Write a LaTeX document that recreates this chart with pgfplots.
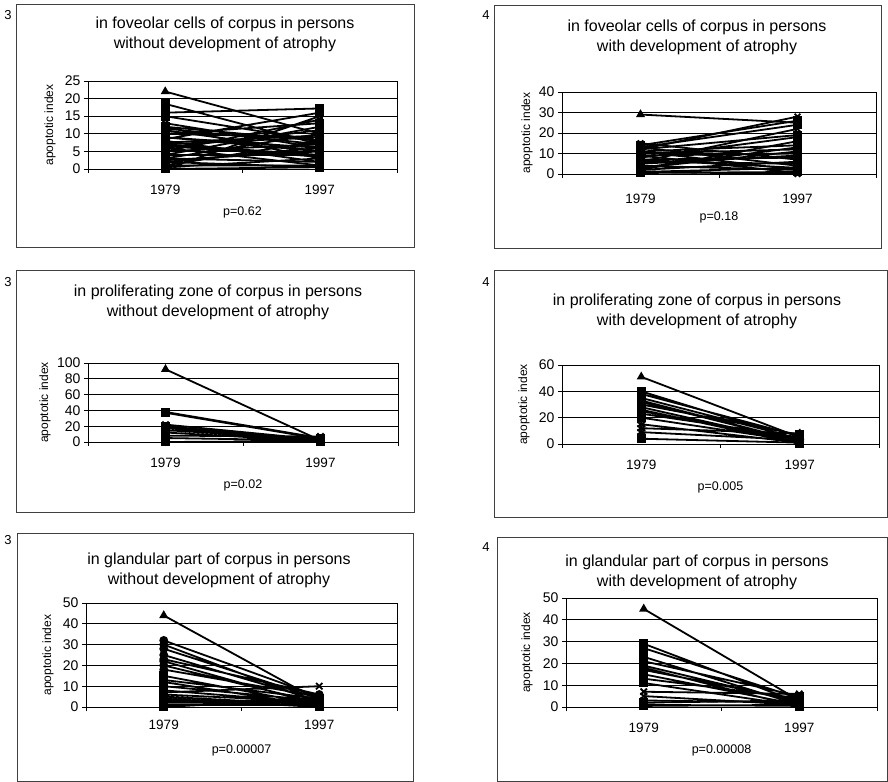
\documentclass[border=0pt]{standalone}
\usepackage{pgfplots}
\pgfplotsset{compat=1.18}
\usepackage{fontspec}
\setmainfont{Liberation Sans}

\pgfplotsset{
  panel/.style={
    scale only axis, anchor=south west, clip=false,
    xmin=0.5, xmax=2.5, ymin=0,
    xtick={0.5,1.5,2.5}, xticklabels={},
    extra x ticks={1,2}, extra x tick labels={1979,1997},
    extra x tick style={major tick length=0pt},
    xtick pos=bottom, ytick pos=left,
    tick align=outside, major tick length=4pt,
    tick style={black, line width=0.7pt},
    ymajorgrids=true, grid style={black, line width=0.8pt},
    axis line style={black, line width=0.8pt},
    /pgf/number format/assume math mode=true,
    yticklabel style={font=\fontsize{14}{15}\selectfont},
    xticklabel style={font=\fontsize{13.5}{14}\selectfont, anchor=center, yshift=-21pt},
    ylabel={apoptotic index},
    ylabel style={font=\fontsize{12}{13}\selectfont, at={(axis description cs:0,0.5)}, anchor=center},
    xlabel style={font=\fontsize{12.5}{13}\selectfont, at={(axis description cs:0.5,0)}, anchor=center, yshift=-43pt},
    unbounded coords=jump,
  },
  pair/.style={black, line width=1.8pt, mark size=3.5pt, mark options={solid, fill=black}},
}

\begin{document}
\begin{tikzpicture}
\path (0pt,0pt) rectangle (888pt,779pt);

% frames and panel numbers
\draw[black!75, line width=0.8pt] (16pt,532pt) rectangle (414pt,775pt);
\draw[black!75, line width=0.8pt] (494pt,531pt) rectangle (881pt,774pt);
\draw[black!75, line width=0.8pt] (16pt,267pt) rectangle (414pt,509pt);
\draw[black!75, line width=0.8pt] (494pt,262pt) rectangle (887pt,509pt);
\draw[black!75, line width=0.8pt] (17pt,-2pt) rectangle (413pt,246pt);
\draw[black!75, line width=0.8pt] (497pt,-2pt) rectangle (887pt,242pt);
\foreach \px/\py/\lab in {8/764/3, 8/497/3, 8/239/3, 486/764/4, 486/497/4, 486/232/4}
  \node[font=\fontsize{13}{14}\selectfont] at (\px pt,\py pt) {\lab};

% 1: foveolar, without atrophy
\begin{axis}[panel, at={(88pt,610pt)}, width=309pt, height=88pt,
  ymax=25, ytick={0,5,...,25}, ylabel style={yshift=38pt}, xlabel={p=0.62}]
\addplot[pair, mark=triangle*] coordinates {(1,22) (2,10)};
\addplot[pair, mark=square*] coordinates {
 (1,18.5) (2,7) (1.5,nan) (1,16) (2,17.2) (1.5,nan) (1,15) (2,8) (1.5,nan)
 (1,12) (2,3) (1.5,nan) (1,11.5) (2,7) (1.5,nan) (1,10) (2,13) (1.5,nan)
 (1,9) (2,5) (1.5,nan) (1,8.5) (2,16) (1.5,nan) (1,8) (2,2) (1.5,nan)
 (1,7) (2,9) (1.5,nan) (1,6) (2,11) (1.5,nan) (1,5) (2,7) (1.5,nan)
 (1,4) (2,4) (1.5,nan) (1,3) (2,10) (1.5,nan) (1,2) (2,6) (1.5,nan)
 (1,1) (2,8) (1.5,nan) (1,0.5) (2,3) (1.5,nan) (1,2) (2,0.5) (1.5,nan)
 (1,6) (2,1) (1.5,nan) (1,10) (2,9) (1.5,nan) (1,9) (2,6) (1.5,nan)
 (1,0) (2,0.5)};
\addplot[pair, mark=x, mark size=4pt] coordinates {
 (1,7) (2,4) (1.5,nan) (1,4) (2,12) (1.5,nan) (1,3) (2,2) (1.5,nan)
 (1,1) (2,1) (1.5,nan) (1,11) (2,5) (1.5,nan) (1,5) (2,14) (1.5,nan)
 (1,12) (2,8) (1.5,nan) (1,13) (2,6) (1.5,nan) (1,7.5) (2,9.5) (1.5,nan)
 (1,2.5) (2,5) (1.5,nan) (1,6.5) (2,3.5) (1.5,nan) (1,0) (2,15)};
\end{axis}
\node[font=\fontsize{16}{20}\selectfont, align=center] at (225pt,744.5pt)
  {in foveolar cells of corpus in persons\\without development of atrophy};

% 2: foveolar, with atrophy
\begin{axis}[panel, at={(562pt,605pt)}, width=314pt, height=82pt,
  ymax=40, ytick={0,10,...,40}, ylabel style={yshift=35pt}, xlabel={p=0.18},
  xticklabel style={yshift=-4pt}]
\addplot[pair, mark=triangle*] coordinates {(1,29) (2,25)};
\addplot[pair, mark=square*] coordinates {
 (1,14) (2,26) (1.5,nan) (1,13) (2,24) (1.5,nan) (1,12) (2,19) (1.5,nan)
 (1,11) (2,14) (1.5,nan) (1,10) (2,12) (1.5,nan) (1,9) (2,10) (1.5,nan)
 (1,8) (2,18) (1.5,nan) (1,7) (2,8) (1.5,nan) (1,6) (2,5) (1.5,nan)
 (1,5) (2,9) (1.5,nan) (1,4) (2,2) (1.5,nan) (1,3) (2,13) (1.5,nan)
 (1,2) (2,6) (1.5,nan) (1,1) (2,3) (1.5,nan) (1,0.5) (2,1)};
\addplot[pair, mark=x, mark size=4pt] coordinates {
 (1,13) (2,4) (1.5,nan) (1,11) (2,2) (1.5,nan) (1,15) (2,7) (1.5,nan)
 (1,9) (2,0.5) (1.5,nan) (1,6) (2,22) (1.5,nan) (1,3) (2,11) (1.5,nan)
 (1,2) (2,16) (1.5,nan) (1,1) (2,0) (1.5,nan) (1,7) (2,3) (1.5,nan)
 (1,12) (2,28)};
\end{axis}
\node[font=\fontsize{16}{20}\selectfont, align=center] at (697pt,742pt)
  {in foveolar cells of corpus in persons\\with development of atrophy};

% 3: proliferating zone, without atrophy
\begin{axis}[panel, at={(88pt,337pt)}, width=310pt, height=79pt,
  ymax=100, ytick={0,20,...,100}, ylabel style={yshift=43pt}, xlabel={p=0.02}]
\addplot[pair, mark=triangle*] coordinates {(1,92) (2,2)};
\addplot[pair, mark=x, mark size=4.5pt] coordinates {
 (1,38) (2,5) (1.5,nan) (1,22) (2,3) (1.5,nan) (1,8) (2,7)};
\addplot[pair, mark=square*] coordinates {
 (1,37) (2,4) (1.5,nan) (1,20) (2,2) (1.5,nan) (1,18) (2,1) (1.5,nan)
 (1,15) (2,3) (1.5,nan) (1,12) (2,1) (1.5,nan) (1,0) (2,1) (1.5,nan)
 (1,5) (2,2) (1.5,nan) (1,19) (2,0)};
\end{axis}
\node[font=\fontsize{16}{20}\selectfont, align=center] at (218pt,477pt)
  {in proliferating zone of corpus in persons\\without development of atrophy};

% 4: proliferating zone, with atrophy
\begin{axis}[panel, at={(562pt,335pt)}, width=317pt, height=79pt,
  ymax=60, ytick={0,20,...,60}, ylabel style={yshift=38pt}, xlabel={p=0.005}]
\addplot[pair, mark=triangle*] coordinates {(1,51) (2,5)};
\addplot[pair, mark=square*] coordinates {
 (1,40) (2,3) (1.5,nan) (1,38) (2,6) (1.5,nan) (1,35) (2,4) (1.5,nan)
 (1,32) (2,2) (1.5,nan) (1,30) (2,7) (1.5,nan) (1,28) (2,1) (1.5,nan)
 (1,25) (2,3) (1.5,nan) (1,23) (2,5) (1.5,nan) (1,20) (2,2) (1.5,nan)
 (1,26) (2,0) (1.5,nan) (1,33) (2,2) (1.5,nan) (1,4) (2,1)};
\addplot[pair, mark=asterisk, mark size=4.5pt] coordinates {
 (1,15) (2,1) (1.5,nan) (1,12) (2,8) (1.5,nan) (1,9) (2,3)};
\end{axis}
\node[font=\fontsize{16}{20}\selectfont, align=center] at (697pt,468pt)
  {in proliferating zone of corpus in persons\\with development of atrophy};

% 5: glandular part, without atrophy
\begin{axis}[panel, at={(86pt,72pt)}, width=311pt, height=104pt,
  ymax=50, ytick={0,10,...,50}, ylabel style={yshift=38pt}, xlabel={p=0.00007},
  xticklabel style={yshift=3pt}]
\addplot[pair, mark=triangle*] coordinates {(1,44) (2,3)};
\addplot[pair, mark=*] coordinates {
 (1,32) (2,5) (1.5,nan) (1,30) (2,2) (1.5,nan) (1,28) (2,4) (1.5,nan)
 (1,25) (2,3) (1.5,nan) (1,23) (2,6) (1.5,nan) (1,20) (2,2) (1.5,nan)
 (1,22) (2,1) (1.5,nan) (1,18) (2,5)};
\addplot[pair, mark=square*] coordinates {
 (1,15) (2,1) (1.5,nan) (1,13) (2,4) (1.5,nan) (1,10) (2,3) (1.5,nan)
 (1,8) (2,2) (1.5,nan) (1,5) (2,1) (1.5,nan) (1,3) (2,3) (1.5,nan)
 (1,2) (2,2) (1.5,nan) (1,1) (2,1) (1.5,nan) (1,0) (2,4) (1.5,nan)
 (1,12) (2,0.5) (1.5,nan) (1,6) (2,2.5) (1.5,nan) (1,4) (2,0)};
\addplot[pair, mark=x, mark size=4.5pt] coordinates {(1,7) (2,10)};
\end{axis}
\node[font=\fontsize{16}{20}\selectfont, align=center] at (219pt,209pt)
  {in glandular part of corpus in persons\\without development of atrophy};

% 6: glandular part, with atrophy
\begin{axis}[panel, at={(566pt,72pt)}, width=311pt, height=109pt,
  ymax=50, ytick={0,10,...,50}, ylabel style={yshift=39pt}, xlabel={p=0.00008}]
\addplot[pair, mark=triangle*] coordinates {(1,45) (2,3)};
\addplot[pair, mark=square*] coordinates {
 (1,29) (2,2) (1.5,nan) (1,27) (2,4) (1.5,nan) (1,23) (2,1) (1.5,nan)
 (1,21) (2,5) (1.5,nan) (1,19) (2,2) (1.5,nan) (1,17) (2,3) (1.5,nan)
 (1,15) (2,1) (1.5,nan) (1,13) (2,4) (1.5,nan) (1,11) (2,0.5) (1.5,nan)
 (1,1) (2,0.5) (1.5,nan) (1,0.5) (2,1) (1.5,nan) (1,2) (2,3) (1.5,nan)
 (1,18) (2,0)};
\addplot[pair, mark=x, mark size=4.5pt] coordinates {
 (1,5) (2,1) (1.5,nan) (1,3) (2,2) (1.5,nan) (1,7) (2,6)};
\end{axis}
\node[font=\fontsize{16}{20}\selectfont, align=center] at (697pt,207pt)
  {in glandular part of corpus in persons\\with development of atrophy};
\end{tikzpicture}
\end{document}
